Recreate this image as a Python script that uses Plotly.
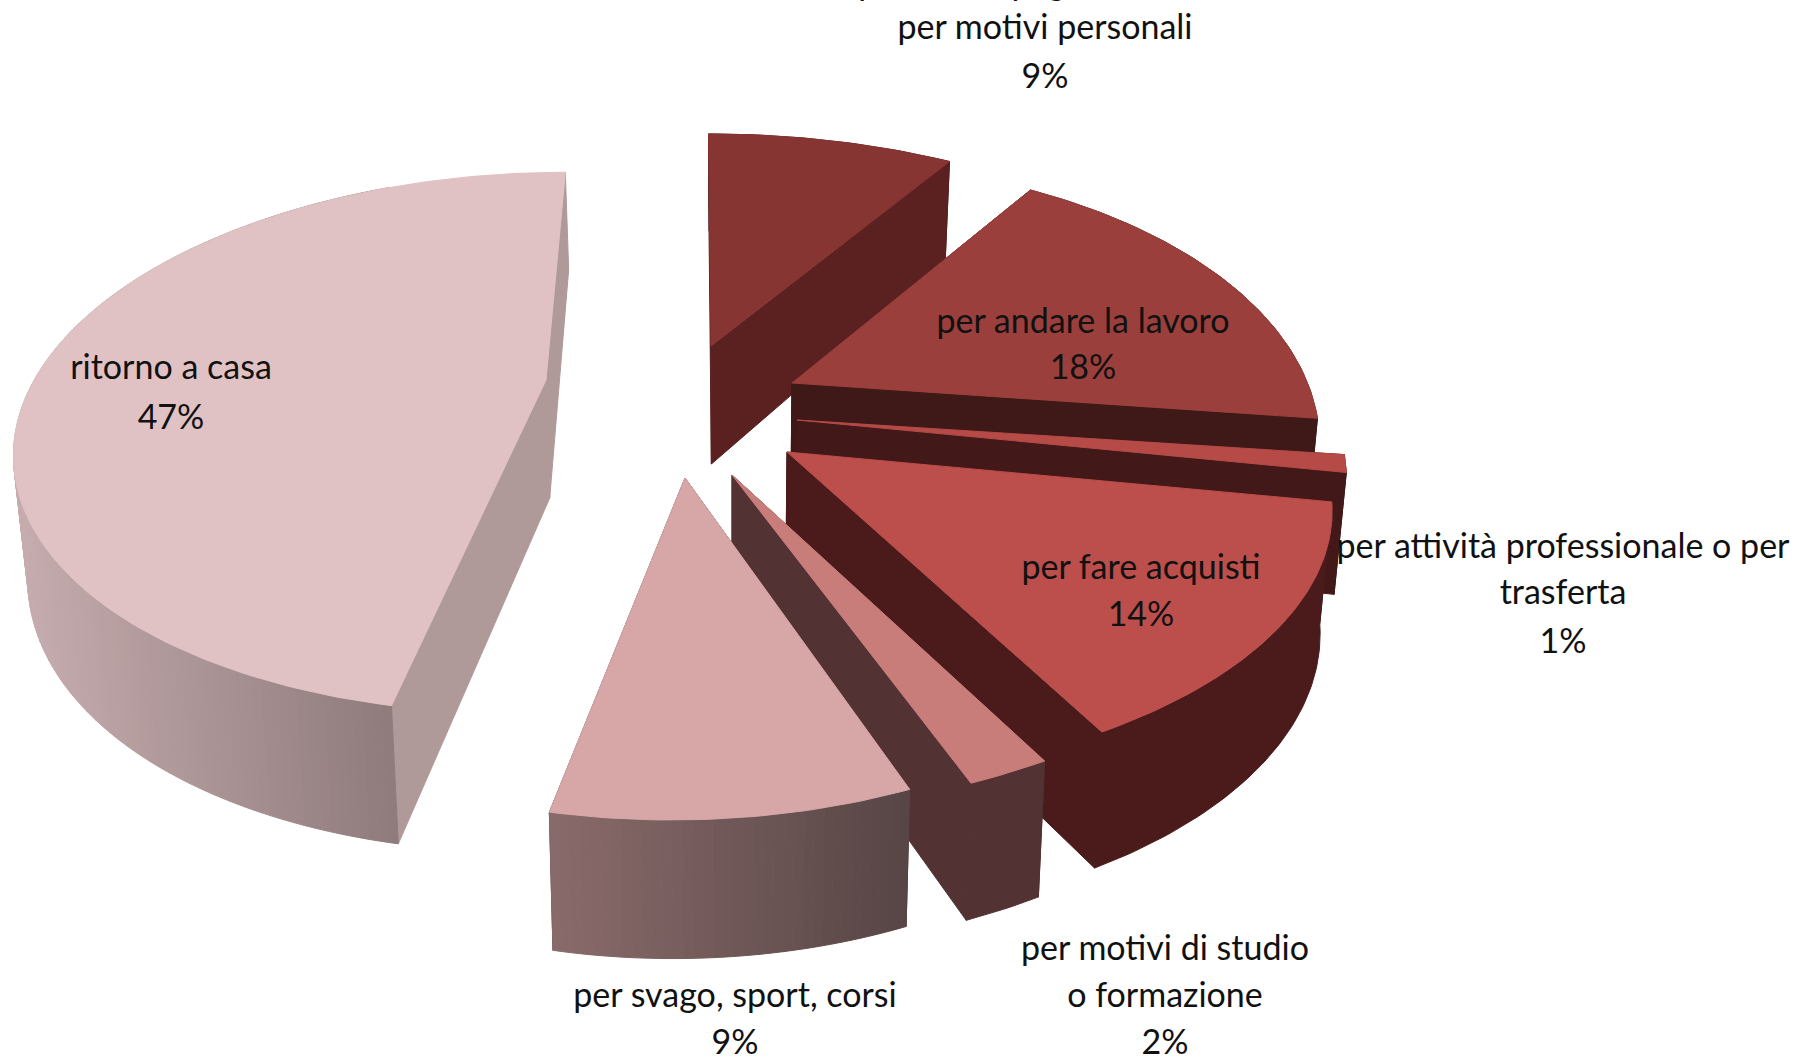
import math
import plotly.graph_objects as go

# Data
categories = ["per motivi personali", "per andare la lavoro", "per attività professionale o per trasferta",
              "per fare acquisti", "per motivi di studio o formazione", "per svago, sport, corsi", "ritorno a casa"]
values = [9, 18, 1, 14, 2, 9, 47]

# Per-slice style
top_colors = ["#873533", "#9b3f3c", "#b54a47", "#bc4e4b", "#c97d7b", "#d7a7a7", "#e0c2c4"]
cut_colors = ["#5a2120", "#3f1917", "#421918", "#4b1b1b", "#523232", "#523232", "#b09999"]
side_from = ["#5a2120", "#3f1917", "#421918", "#4b1b1b", "#523232", "#8a6b6b", "#c6acae"]
side_to = ["#5a2120", "#3f1917", "#421918", "#4b1b1b", "#523232", "#574545", "#8f7b7c"]

# Per-slice explosion layout: apex px, x scale, y scale, shear
apex_x = [711, 792, 797, 787, 732, 685, 546]
apex_y = [346, 383, 420, 452, 475, 478, 380]
scale_x = [1.0, 0.96, 1.0, 0.99, 1.0, 0.94, 0.953]
scale_y = [0.975, 1.02, 1.0, 0.95, 0.97, 0.98, 0.955]
shear = [-3, 11, 11, 6, 11, 11, 25]

# Projection
RX, RY, PERSP = 537, 268, 0.232
DEPTH0, DEPTH1, VANISH_X, VANISH_K = 118, 20.6, 732, 0.02

label_lines = [
    ("per motivi personali", 1045, 30), ("9%", 1045, 79),
    ("per andare la lavoro", 1083, 324), ("18%", 1083, 370),
    ("per attività professionale o per", 1563, 549), ("trasferta", 1563, 595), ("1%", 1563, 644),
    ("per fare acquisti", 1141, 570), ("14%", 1141, 617),
    ("per motivi di studio", 1165, 951), ("o formazione", 1165, 998), ("2%", 1165, 1045),
    ("per svago, sport, corsi", 735, 998), ("9%", 735, 1045),
    ("ritorno a casa", 171, 370), ("47%", 171, 420),
]
clipped_line = ("per accompagnare familiari", 1058, -14)


def hex_rgb(h):
    return [int(h[i:i + 2], 16) for i in (1, 3, 5)]


def mix(a, b, t):
    ca, cb = hex_rgb(a), hex_rgb(b)
    return "rgb(%d,%d,%d)" % tuple(round(ca[i] + (cb[i] - ca[i]) * t) for i in range(3))


def project(i, X, Y):
    denom = 1 + PERSP * Y
    px = apex_x[i] + scale_x[i] * (RX * X + shear[i] * Y) / denom
    py = apex_y[i] - scale_y[i] * RY * Y / denom
    return px, py


def lower(px, py, Y):
    return px + VANISH_K * (VANISH_X - px), py + DEPTH0 - DEPTH1 * Y


def poly(fig, xs, ys, color):
    fig.add_trace(go.Scatter(x=list(xs) + [xs[0]], y=list(ys) + [ys[0]], mode="lines", fill="toself",
                             fillcolor=color, line=dict(color=color, width=1), hoverinfo="skip", showlegend=False))


fig = go.Figure()
total = sum(values)
start = 0.0
for i, v in enumerate(values):
    a0 = start / total * 2 * math.pi
    a1 = (start + v) / total * 2 * math.pi
    start += v
    n = max(8, int(v * 4))
    ang = [a0 + (a1 - a0) * k / n for k in range(n + 1)]
    wy = [math.cos(a) for a in ang]
    top = [project(i, math.sin(a), math.cos(a)) for a in ang]
    bot = [lower(p[0], p[1], y) for p, y in zip(top, wy)]
    ax, ay = apex_x[i], apex_y[i]
    bx, by = lower(ax, ay, 0)
    # cut faces
    for j in (0, n):
        poly(fig, [ax, top[j][0], bot[j][0], bx], [ay, top[j][1], bot[j][1], by], cut_colors[i])
    # outer wall
    if side_from[i] == side_to[i]:
        poly(fig, [p[0] for p in top] + [p[0] for p in reversed(bot)],
             [p[1] for p in top] + [p[1] for p in reversed(bot)], cut_colors[i])
    else:
        xmin = min(p[0] for p in top)
        xmax = max(p[0] for p, y in zip(top, wy) if y <= 0)
        for k in range(n):
            mid = (top[k][0] + top[k + 1][0]) / 2
            if mid > xmax:
                continue  # back of the wall, hidden behind the top face
            poly(fig, [top[k][0], top[k + 1][0], bot[k + 1][0], bot[k][0]],
                 [top[k][1], top[k + 1][1], bot[k + 1][1], bot[k][1]],
                 mix(side_from[i], side_to[i], (mid - xmin) / (xmax - xmin)))
    # top face
    poly(fig, [ax] + [p[0] for p in top], [ay] + [p[1] for p in top], top_colors[i])

all_lines = [clipped_line] + label_lines
fig.add_trace(go.Scatter(x=[l[1] for l in all_lines], y=[l[2] for l in all_lines], text=[l[0] for l in all_lines],
                         mode="text", textposition="middle center", cliponaxis=True,
                         textfont=dict(family="Lato", size=34, color="#111111"), hoverinfo="skip", showlegend=False))

fig.update_xaxes(range=[0, 1793], visible=False, fixedrange=True)
fig.update_yaxes(range=[1058, 0], visible=False, fixedrange=True)
fig.update_layout(width=1793, height=1058, margin=dict(l=0, r=0, t=0, b=0), plot_bgcolor="white", paper_bgcolor="white")
fig.write_html("out.html", config={"displayModeBar": False}, post_script="document.body.style.margin='0';")
